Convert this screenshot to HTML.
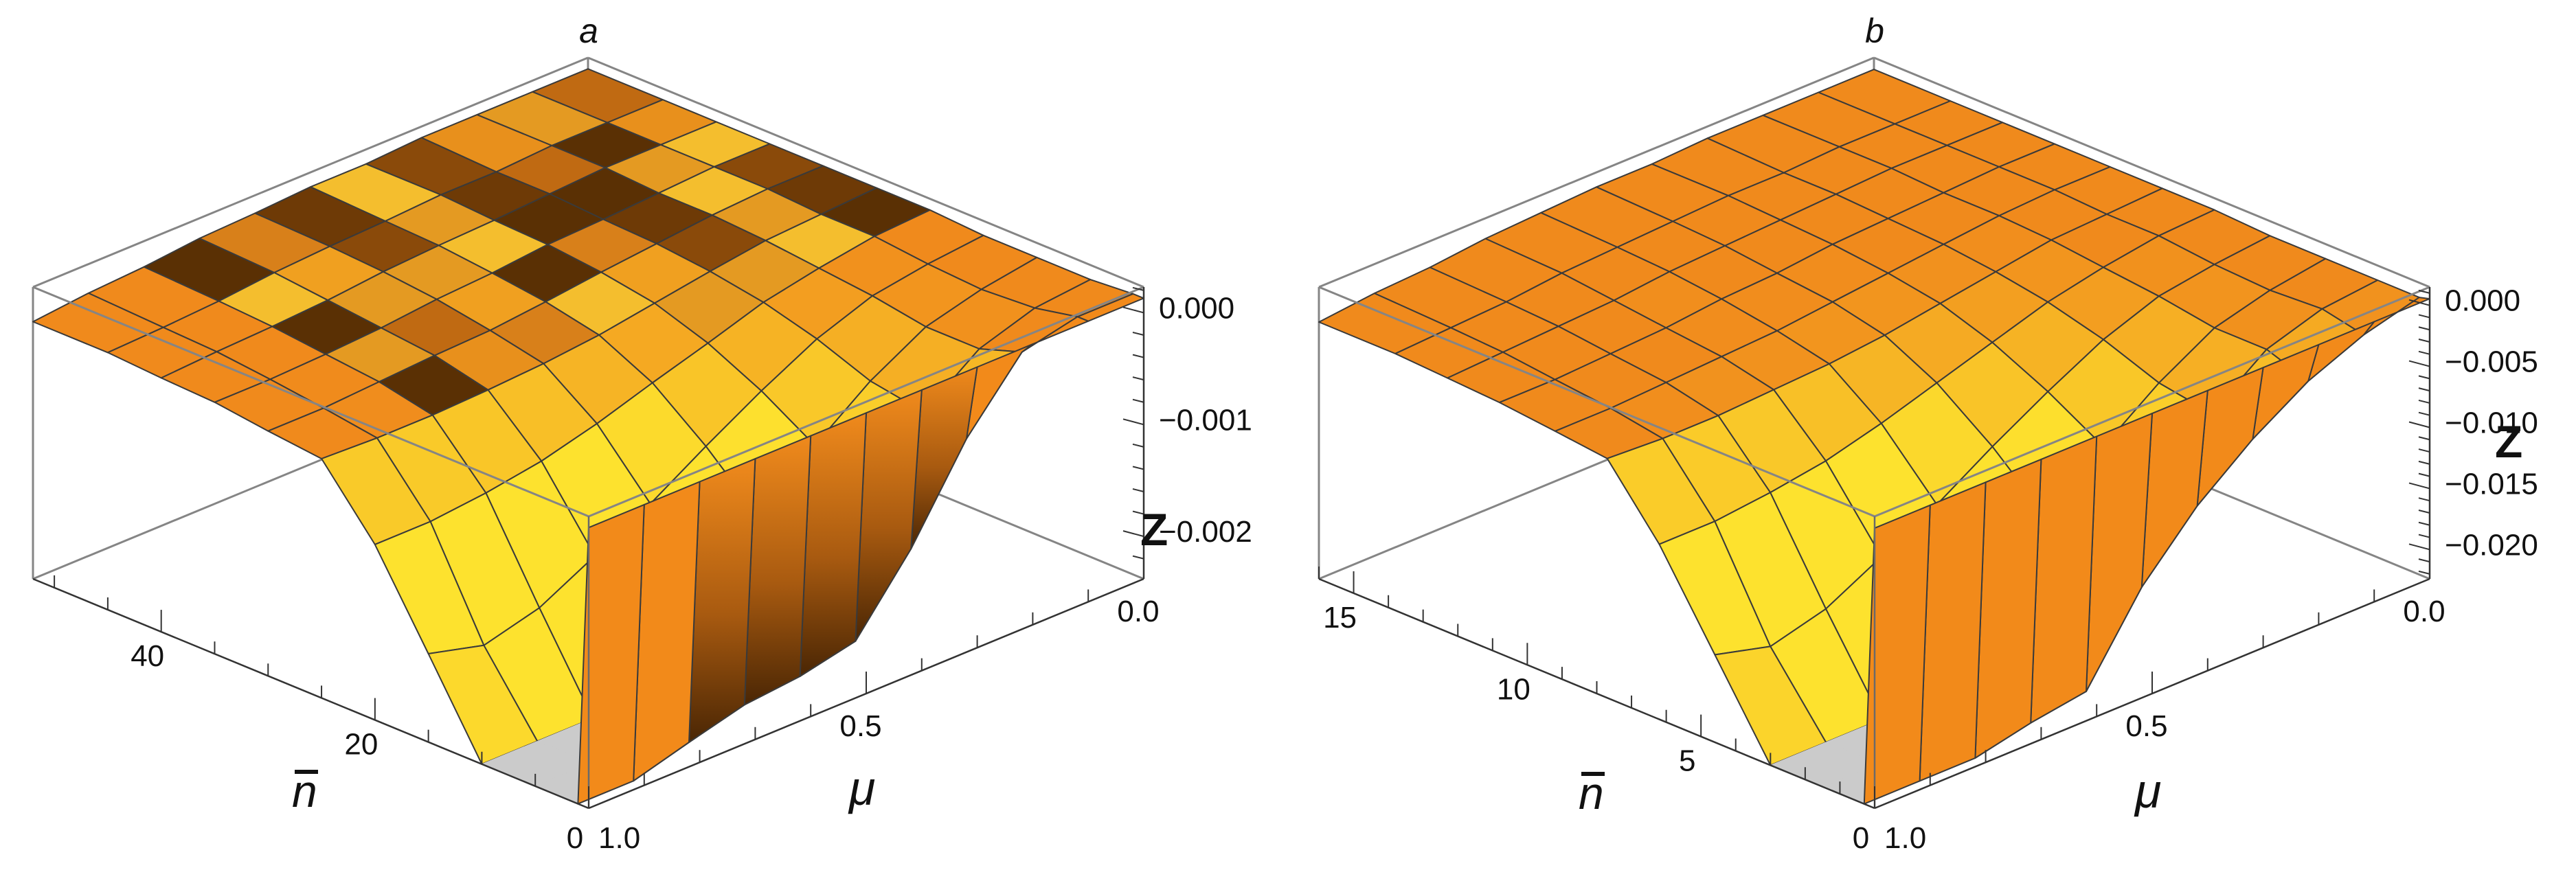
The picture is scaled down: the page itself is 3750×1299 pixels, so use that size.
<!DOCTYPE html>
<html><head><meta charset="utf-8"><style>
html,body{margin:0;padding:0;background:#fff;}
svg{display:block;}
text{font-family:"Liberation Sans",sans-serif;fill:#111;}
</style></head><body>
<svg id="fig" width="3750" height="1299" viewBox="0 0 3750 1299" xmlns="http://www.w3.org/2000/svg">
<defs>
<linearGradient id="wallDark" x1="0" y1="0" x2="0" y2="1">
<stop offset="0" stop-color="#f08a1c"/><stop offset="0.55" stop-color="#a85a10"/><stop offset="1" stop-color="#4a2604"/>
</linearGradient>
</defs>
<g id="panelA"></g>
<g id="panelB"></g>
</svg>
<script>
// ---------- data ----------
const muValues = [1.0,0.9,0.8,0.7,0.6,0.5,0.4,0.3,0.2,0.1,0.0];
const nbarA = [0,1,5,10,15,20,25,30,35,40,45,52];
const nbarB = [0,0.3,1.5,3,4.6,6.2,7.7,9.2,10.8,12.3,13.8,16];
// Z values (units of 1e-3), rows follow nbar, columns follow muValues
const zA = [
[0.13,0.13,0.13,0.13,0.13,0.13,0.13,0.13,0.13,0.13,0.13],
[-2.6,-2.6,-2.24,-2.11,-2.06,-1.95,-1.33,-0.55,0.02,0.13,0.13],
[-2.6,-2.6,-2.6,-2.6,-1.98,-1.54,-0.99,-0.47,-0.11,0.05,0.10],
[-2.6,-2.6,-2.6,-2.24,-1.72,-1.2,-0.76,-0.39,-0.11,0.02,0.10],
[-1.59,-1.72,-1.59,-1.33,-1.07,-0.76,-0.47,-0.21,-0.03,0.05,0.10],
[-0.81,-0.81,-0.76,-0.68,-0.55,-0.39,-0.24,-0.08,0.02,0.10,0.13],
[-0.24,-0.26,-0.26,-0.24,-0.21,-0.16,-0.08,0.0,0.07,0.10,0.13],
[-0.19,-0.19,-0.16,-0.13,-0.11,-0.06,0.0,0.05,0.10,0.13,0.13],
[-0.13,-0.13,-0.11,-0.08,-0.03,0.0,0.05,0.07,0.10,0.13,0.13],
[-0.11,-0.08,-0.06,-0.03,0.02,0.05,0.07,0.10,0.13,0.13,0.13],
[-0.08,-0.06,-0.03,0.02,0.05,0.07,0.10,0.10,0.13,0.13,0.13],
[-0.08,-0.03,0.0,0.05,0.07,0.10,0.10,0.13,0.13,0.13,0.13]
];
const zB = [
[0.54,0.54,0.54,0.54,0.54,0.54,0.54,0.54,0.54,0.54,0.54],
[-25,-25,-25,-21.4,-20.7,-14.04,-9.26,-5.67,-2.8,-0.89,0.3],
[-25,-25,-25,-25,-18.82,-14.75,-9.73,-4.95,-1.61,-0.17,0.3],
[-25,-25,-25,-21.2,-16.43,-11.65,-7.58,-4.24,-1.61,-0.41,0.3],
[-15.23,-16.43,-15.23,-12.84,-10.45,-7.58,-4.95,-2.56,-0.89,-0.17,0.3],
[-8.06,-8.06,-7.58,-6.87,-5.67,-4.24,-2.8,-1.37,-0.41,0.3,0.54],
[-2.8,-3.04,-3.04,-2.8,-2.56,-2.09,-1.37,-0.65,0.07,0.3,0.54],
[-2.32,-2.32,-2.09,-1.85,-1.61,-1.13,-0.65,-0.17,0.3,0.54,0.54],
[-1.85,-1.85,-1.61,-1.37,-0.89,-0.65,-0.17,0.07,0.3,0.54,0.54],
[-1.61,-1.37,-1.13,-0.89,-0.41,-0.17,0.07,0.3,0.54,0.54,0.54],
[-1.37,-1.13,-0.89,-0.41,-0.17,0.07,0.3,0.3,0.54,0.54,0.54],
[-1.37,-0.89,-0.65,-0.17,0.07,0.3,0.3,0.54,0.54,0.54,0.54]
];
const zTicksA = [0.0,-1.0,-2.0];
const zTickLabelsA = ["0.000","\u22120.001","\u22120.002"];
const zTicksB = [0,-5,-10,-15,-20];
const zTickLabelsB = ["0.000","\u22120.005","\u22120.010","\u22120.015","\u22120.020"];
const nTicksA = [20,40];
const nTicksB = [5,10,15];
const muTicks = [0.5,0.0];
const muTickLabels = ["0.5","0.0"];

// ---------- drawing ----------
const NS = "http://www.w3.org/2000/svg";
function mk(tag, parent){const e=document.createElementNS(NS,tag);parent.appendChild(e);return e;}
function hex(c){return "rgb("+c.map(v=>Math.round(v)).join(",")+")";}
function lerp(c1,c2,t){return c1.map((v,i)=>v+(c2[i]-v)*t);}
const ORANGE=[240,138,28], YELLOW=[253,226,46];
const MOTTLE=["#e8901c","#8a4a0a","#5a3004","#f0a020","#c06a12","#f4be2e","#6e3a06","#d8801a","#e49a22"];

function drawPanel(g, cfg){
  const F={x:cfg.ox+857,y:752}, U={x:-809,y:-334}, V={x:808,y:-334}, H=425;
  function P(a,b,d){return {x:F.x+a*U.x+b*V.x, y:F.y+a*U.y+b*V.y+d*H};}
  function dOf(z){let d=(cfg.zTop-z)/(cfg.zTop-cfg.zBot);return Math.max(0,Math.min(1,d));}
  const nA = cfg.nbar.map(n=>n/cfg.nMax);
  const bP = muValues.map(m=>1-m);
  function line(p,q,stroke,w,name){
    const l=mk("line",g);
    l.setAttribute("x1",p.x);l.setAttribute("y1",p.y);l.setAttribute("x2",q.x);l.setAttribute("y2",q.y);
    l.setAttribute("stroke",stroke);l.setAttribute("stroke-width",w);
    
    
    return l;
  }
  function text(x,y,s,size,name,extra){
    const t=mk("text",g);
    t.setAttribute("x",x);t.setAttribute("y",y);t.setAttribute("font-size",size);
    if(extra){for(const k in extra)t.setAttribute(k,extra[k]);}
    t.textContent=s;
    
    
    return t;
  }
  const BOX="#858585";
  line(P(1,0,1),P(1,1,1),BOX,3,"box-edge-back-bottom-left");
  line(P(1,1,1),P(0,1,1),BOX,3,"box-edge-back-bottom-right");
  line(P(1,1,0),P(1,1,1),BOX,3,"box-edge-back-vertical");
  line(P(1,0,0),P(1,1,0),BOX,3,"box-edge-top-back-left");
  line(P(1,1,0),P(0,1,0),BOX,3,"box-edge-top-back-right");
  line(P(1,0,0),P(1,0,1),BOX,3,"box-edge-left-vertical");
  const quads=[];
  for(let i=0;i<nA.length-1;i++){
    for(let k=0;k<bP.length-1;k++){
      const d00=dOf(cfg.z[i][k]), d01=dOf(cfg.z[i][k+1]), d10=dOf(cfg.z[i+1][k]), d11=dOf(cfg.z[i+1][k+1]);
      quads.push({i,k,d00,d01,d10,d11,key:(nA[i]+nA[i+1])/2+(bP[k]+bP[k+1])/2});
    }
  }
  quads.sort((p,q)=>q.key-p.key);
  const sg=mk("g",g);
  
  
  for(const q of quads){
    const {i,k}=q;
    const pts=[P(nA[i],bP[k],q.d00),P(nA[i],bP[k+1],q.d01),P(nA[i+1],bP[k+1],q.d11),P(nA[i+1],bP[k],q.d10)];
    const poly=mk("polygon",sg);
    poly.setAttribute("points",pts.map(p=>p.x.toFixed(1)+","+p.y.toFixed(1)).join(" "));
    let fill, stroke="#3a3a3a", sw=2;
    const da=nA[i+1]-nA[i], db=bP[k+1]-bP[k];
    const fa=((q.d10+q.d11)-(q.d00+q.d01))/2/da;
    const fb=((q.d01+q.d11)-(q.d00+q.d10))/2/db;
    if(q.d00>=0.999&&q.d01>=0.999&&q.d10>=0.999&&q.d11>=0.999){
      fill="#cbcbcb"; stroke="#cbcbcb"; sw=1;
    } else if(i===0){
      const bc=(bP[k]+bP[k+1])/2;
      fill = (cfg.darkWall && bc>0.2 && bc<0.75) ? "url(#wallDark)" : "#f28a1a";
    } else {
      let t=Math.max(0,Math.min(1,(-fa-fb-0.3)/2.6));
      if(fb< -2.2 && fa> -1.2){fill=hex(lerp([226,120,20],[120,60,8],Math.min(1,(-fb-2.2)/3)));}
      else if(cfg.mottle && t<0.35 && nA[i]>0.3 && bP[k]>0.1 && bP[k]<0.95){fill=MOTTLE[(i*4+k*7+(i*k)%3)%MOTTLE.length];}
      else fill=hex(lerp(ORANGE,YELLOW,t));
    }
    poly.setAttribute("fill",fill);
    poly.setAttribute("stroke",stroke);
    poly.setAttribute("stroke-width",sw);
    poly.setAttribute("stroke-linejoin","round");
    
    
  }
  line(P(1,0,0),P(0,0,0),BOX,3,"box-edge-top-front-left");
  line(P(0,0,0),P(0,1,0),BOX,3,"box-edge-top-front-right");
  line(P(0,0,0),P(0,0,1),"#6a6a6a",2.5,"box-edge-front-vertical");
  line(P(0,1,0),P(0,1,1),"#333",2.5,"z-axis-line");
  line(P(1,0,1),P(0,0,1),"#333",2.5,"nbar-axis-line");
  line(P(0,0,1),P(0,1,1),"#333",2.5,"mu-axis-line");
  for(let n=0;n<=cfg.nMax;n+=cfg.nMinor){
    const p=P(n/cfg.nMax,0,1);
    const major=cfg.nTicks.includes(n)||n===0;
    line(p,{x:p.x,y:p.y-(major?32:18)},"#333",2,"nbar-tick");
  }
  for(const n of cfg.nTicks){
    const p=P(n/cfg.nMax,0,1);
    text(p.x-20,p.y+50,String(n),44,"nbar-tick-label",{"text-anchor":"middle"});
  }
  text(F.x-20,P(0,0,1).y+58,"0",44,"nbar-tick-label-0",{"text-anchor":"middle"});
  for(let m=0;m<=10;m++){
    const q=P(0,m/10,1);
    line(q,{x:q.x,y:q.y-(m%5===0?32:18)},"#333",2,"mu-tick");
  }
  for(let j=0;j<muTicks.length;j++){
    const q=P(0,1-muTicks[j],1);
    text(q.x-8,q.y+62,muTickLabels[j],44,"mu-tick-label",{"text-anchor":"middle"});
  }
  text(F.x+14,P(0,0,1).y+58,"1.0",44,"mu-tick-label-1",{"text-anchor":"start"});
  for(let z=cfg.zMinorStart; z>=cfg.zBot; z-=cfg.zMinor){
    const d=dOf(z); const p=P(0,1,d);
    const major=cfg.zTicks.some(v=>Math.abs(v-z)<1e-6);
    line(p,{x:p.x-(major?30:16),y:p.y-(major?8:4)},"#333",2,"z-tick");
  }
  for(let j=0;j<cfg.zTicks.length;j++){
    const p=P(0,1,dOf(cfg.zTicks[j]));
    text(p.x+22,p.y+8,cfg.zLabels[j],44,"z-tick-label");
  }
  text(cfg.nLabel.x,cfg.nLabel.y,"n",66,"nbar-axis-title",{"font-style":"italic"});
  const ob=mk("rect",g);
  ob.setAttribute("x",cfg.nLabel.x+4);ob.setAttribute("y",cfg.nLabel.y-54);ob.setAttribute("width",34);ob.setAttribute("height",6);ob.setAttribute("fill","#111");
  
  
  text(cfg.muLabel.x,cfg.muLabel.y,"\u03bc",70,"mu-axis-title",{"font-style":"italic"});
  text(cfg.zLabel.x,cfg.zLabel.y,"Z",66,"z-axis-title",{"font-weight":"bold"});
  text(F.x,62,cfg.title,50,"panel-title",{"font-style":"italic","text-anchor":"middle"});
}

drawPanel(document.getElementById("panelA"),{
  ox:0, nbar:nbarA, nMax:52, z:zA, zTop:0.23, zBot:-2.38,
  zTicks:zTicksA, zLabels:zTickLabelsA, zMinor:0.2, zMinorStart:0.2,
  nTicks:nTicksA, nMinor:5, mottle:true, darkWall:true,
  nLabel:{x:425,y:1175}, muLabel:{x:1236,y:1172}, zLabel:{x:1660,y:794}, title:"a"
});
drawPanel(document.getElementById("panelB"),{
  ox:1872, nbar:nbarB, nMax:16, z:zB, zTop:1.5, zBot:-22.4,
  zTicks:zTicksB, zLabels:zTickLabelsB, zMinor:1, zMinorStart:1,
  nTicks:nTicksB, nMinor:1, mottle:false, darkWall:false,
  nLabel:{x:2298,y:1178}, muLabel:{x:3108,y:1176}, zLabel:{x:3632,y:666}, title:"b"
});
</script>
</body></html>
